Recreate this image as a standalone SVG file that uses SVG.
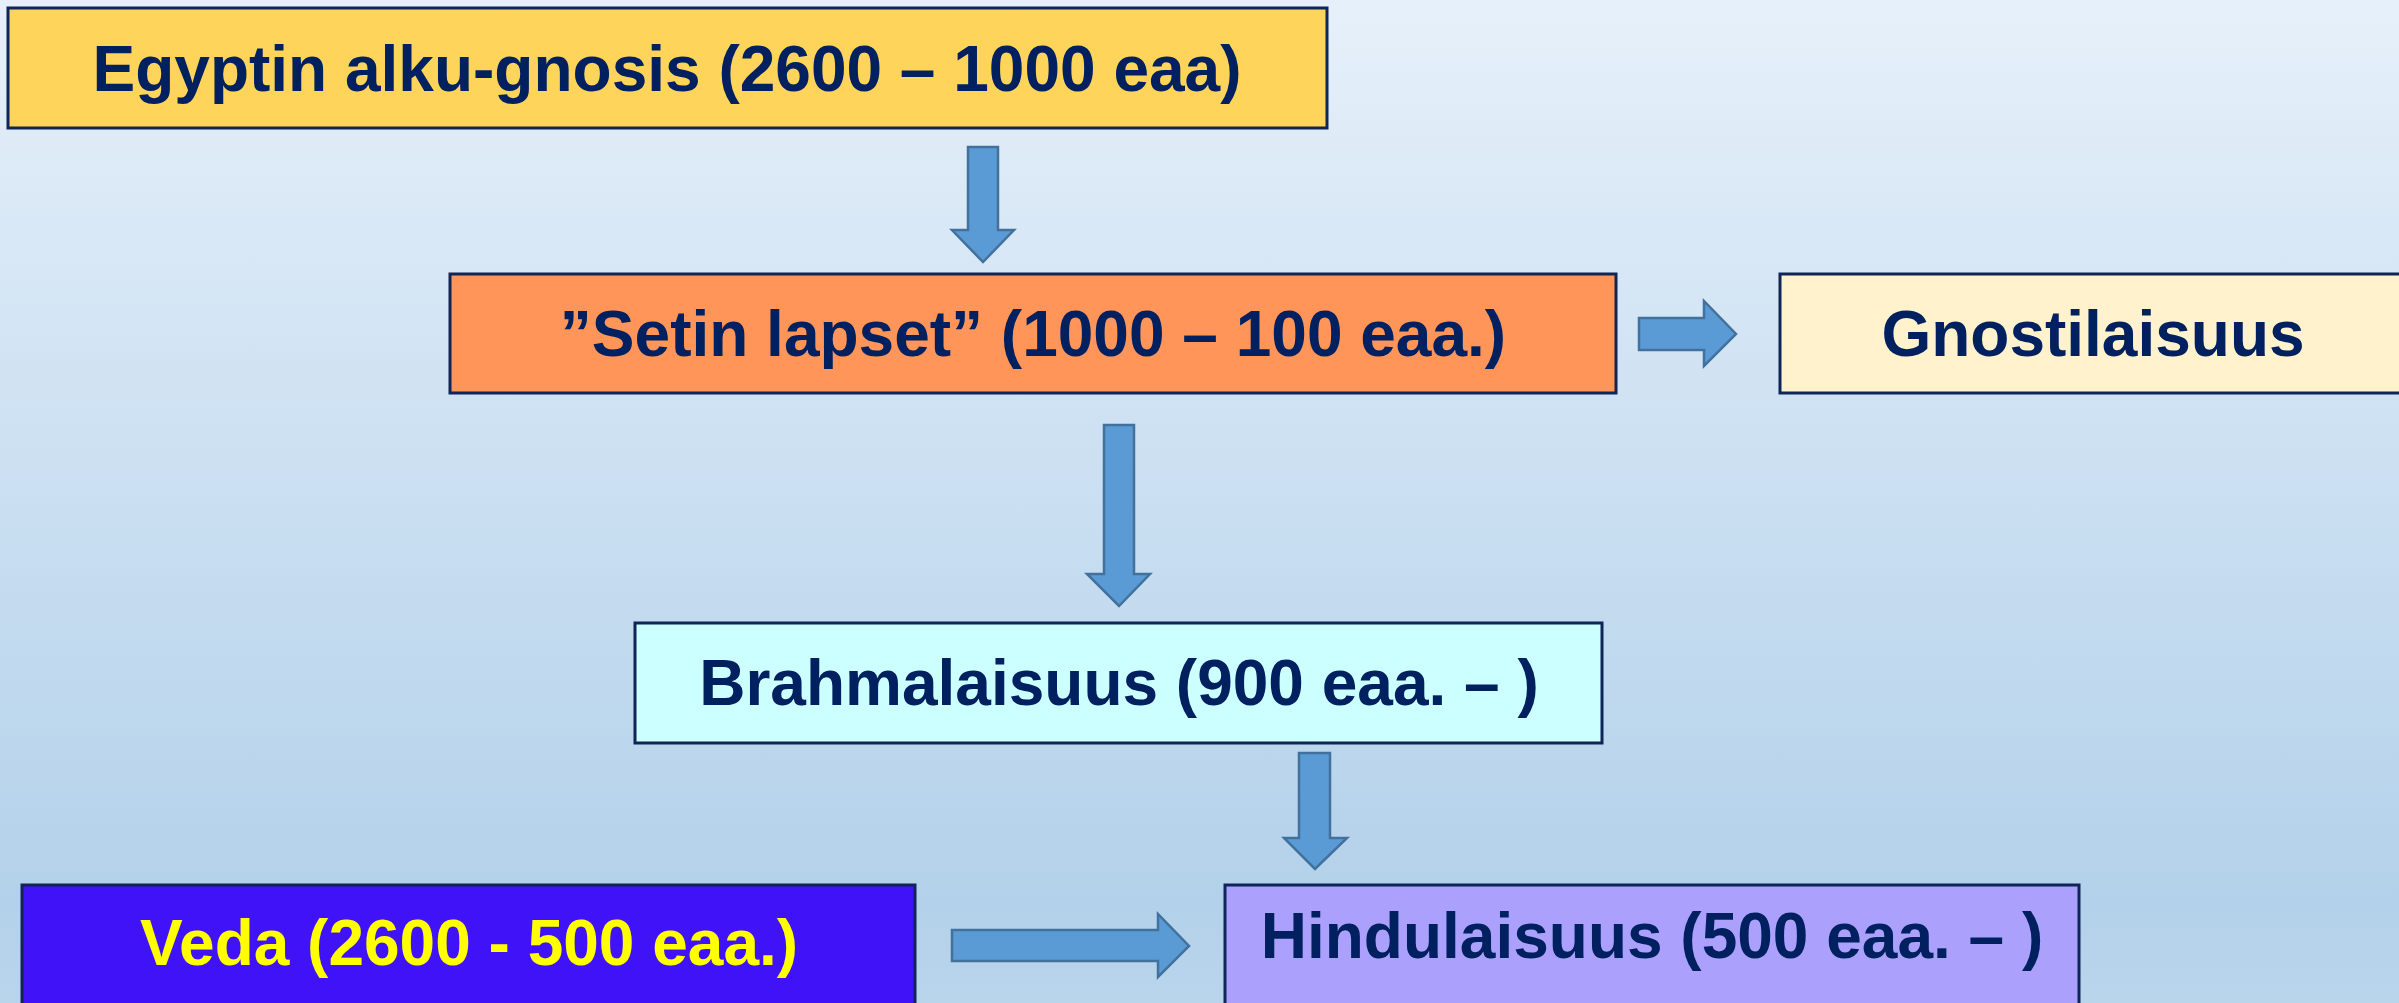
<svg xmlns="http://www.w3.org/2000/svg" width="2399" height="1003" viewBox="0 0 2399 1003">
<defs>
<linearGradient id="bg" x1="0" y1="0" x2="0" y2="1">
<stop offset="0" stop-color="#E6F0FA"/>
<stop offset="0.9" stop-color="#B3D1EA"/>
<stop offset="1" stop-color="#B9D5EC"/>
</linearGradient>
<style>
.box{stroke:#0F2557;stroke-width:3}
.lbl{font-family:"Liberation Sans",Arial,sans-serif;font-weight:bold;font-size:64px;fill:#002060;text-anchor:middle}
.arr{fill:#5B9BD5;stroke:#41719C;stroke-width:2.5;stroke-linejoin:miter}
</style>
</defs>
<rect x="0" y="0" width="2399" height="1003" fill="url(#bg)"/>
<g id="connectors">
<polygon class="arr" points="968,147 998,147 998,230 1014,230 983,262 952,230 968,230"/>
<polygon class="arr" points="1639,318 1704,318 1704,301 1736,334 1704,366 1704,350 1639,350"/>
<polygon class="arr" points="1104,425 1134,425 1134,574 1150,574 1119,606 1087,574 1104,574"/>
<polygon class="arr" points="1299,753 1330,753 1330,838 1347,838 1315,869 1284,838 1299,838"/>
<polygon class="arr" points="952,930 1158,930 1158,914 1189,946 1158,977 1158,961 952,961"/>
</g>
<g id="egyptin">
<rect class="box" x="8" y="8" width="1319" height="120" fill="#FFD45A"/>
<text class="lbl" x="667" y="91">Egyptin alku-gnosis (2600 – 1000 eaa)</text>
</g>
<g id="setin">
<rect class="box" x="450" y="274" width="1166" height="119" fill="#FF9559"/>
<text class="lbl" x="1033" y="356">”Setin lapset” (1000 – 100 eaa.)</text>
</g>
<g id="gnostilaisuus">
<rect class="box" x="1780" y="274" width="640" height="119" fill="#FFF2CC"/>
<text class="lbl" x="2093" y="356">Gnostilaisuus</text>
</g>
<g id="brahmalaisuus">
<rect class="box" x="635" y="623" width="967" height="120" fill="#CCFFFF"/>
<text class="lbl" x="1119" y="705">Brahmalaisuus (900 eaa. – )</text>
</g>
<g id="veda">
<rect class="box" x="22" y="885" width="893" height="130" fill="#3F12F8"/>
<text class="lbl" x="469" y="965" style="fill:#FFFF00">Veda (2600 - 500 eaa.)</text>
</g>
<g id="hindulaisuus">
<rect class="box" x="1225" y="885" width="854" height="130" fill="#ABA0FC"/>
<text class="lbl" x="1652" y="958">Hindulaisuus (500 eaa. – )</text>
</g>
</svg>
